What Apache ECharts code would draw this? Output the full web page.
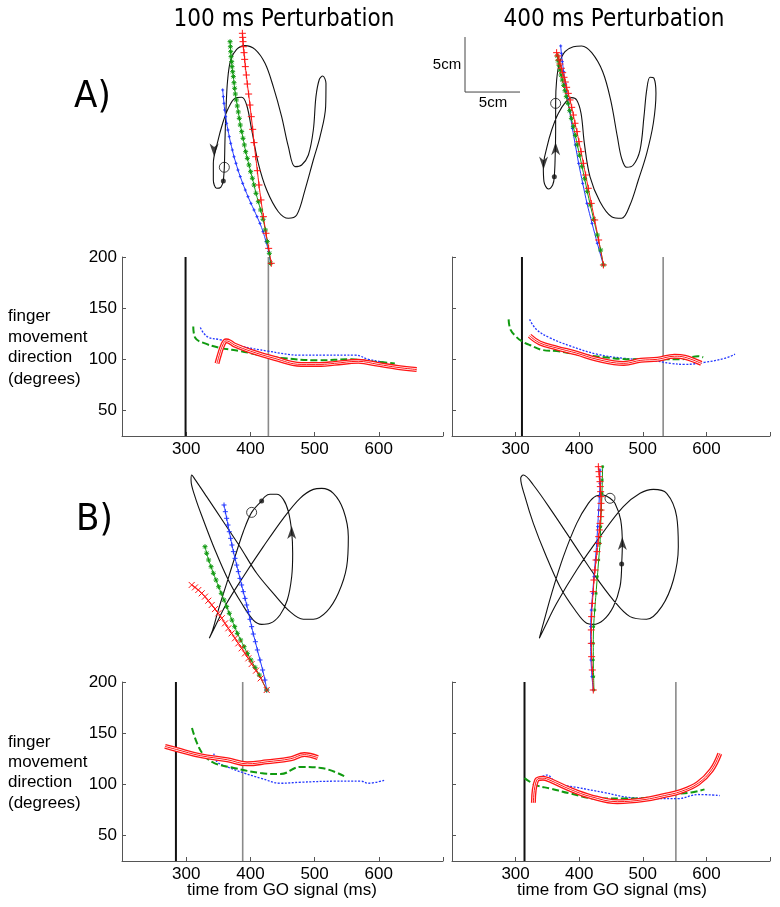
<!DOCTYPE html>
<html><head><meta charset="utf-8">
<script src="https://cdn.jsdelivr.net/npm/echarts@6/dist/echarts.min.js"></script>
<style>html,body{margin:0;padding:0;background:#fff}#c{width:780px;height:907px}</style>
</head><body><div id="c"></div>
<script>
// ===== tick labels =====
const xTickLabels = [300, 400, 500, 600];
const xTickMarks = [300, 400, 500, 600, 700];
const yTickLabels = [50, 100, 150, 200];

// ===== vertical reference lines (ms): [black onset, gray end] =====
const vlinesA100 = [299, 428];
const vlinesA400 = [310, 532];
const vlinesB100 = [284, 388];
const vlinesB400 = [314, 552];

// ===== finger movement direction (degrees) vs time (ms) =====
const redA100 = [[348,96],[352,105],[357,114],[362,118],[368,117],[375,114],[400,108],[437,101],[479,95],[510,95],[531,96],[568,98],[599,95],[630,92],[659,90]];
const greenA100 = [[311,132],[314,121],[327,116],[354,111],[385,108],[416,104],[453,101],[505,99],[557,100],[584,98],[607,97],[625,96]];
const blueA100 = [[322,131],[333,122],[354,119],[385,113],[427,108],[479,104],[516,104],[563,104],[584,100],[600,98],[615,96]];

const redA400 = [[322,123],[338,116],[365,111],[396,106],[428,100],[470,96],[497,99],[523,100],[550,103],[566,102],[592,96]];
const greenA400 = [[289,139],[292,129],[301,122],[309,118],[322,114],[343,109],[365,108],[396,105],[439,102],[481,100],[523,100],[560,100],[587,103],[595,102]];
const blueA400 = [[322,139],[333,129],[354,121],[386,113],[428,105],[470,101],[513,99],[544,96],[566,95],[597,97],[629,101],[645,105]];

const redB100 = [[267,137],[285,134],[322,128],[364,124],[395,120],[426,122],[463,125],[484,129],[505,126]];
const greenB100 = [[309,155],[317,140],[327,129],[343,121],[374,116],[416,111],[447,110],[478,117],[510,116],[546,108]];
const blueB100 = [[343,130],[348,122],[364,117],[390,111],[416,106],[447,101],[478,102],[531,103],[573,103],[583,101],[609,104]];

const redB400 = [[328,82],[333,104],[343,106],[354,104],[386,95],[418,88],[460,83],[502,85],[534,89],[560,93],[587,101],[608,114],[621,130]];
const greenB400 = [[314,106],[333,99],[354,96],[386,91],[428,86],[470,86],[513,87],[544,90],[576,92],[597,95]];
const blueB400 = [[333,104],[349,109],[365,101],[396,97],[439,92],[481,87],[523,86],[555,86],[587,90],[621,89]];

// ===== finger paths (cm, from the top-left of each drawing panel, y downward) =====
const figA100 = [[3.94,13.73],[4.03,12.48],[4.09,10.0],[4.18,7.27],[4.33,4.55],[4.61,2.73],[5.15,1.76],[5.91,1.42],[6.82,1.76],[7.73,3.03],[8.48,5.15],[9.24,7.88],[9.85,10.61],[10.45,12.42],[11.06,12.27],[11.67,11.36],[12.12,9.09],[12.36,6.06],[12.67,4.48],[12.97,4.18],[13.27,4.85],[13.24,6.97],[12.73,9.70],[12.12,11.82],[11.36,14.55],[10.61,16.82],[9.85,17.12],[8.94,16.52],[7.88,14.55],[7.12,12.12],[6.52,9.09],[6.06,6.82],[5.61,6.12],[5.0,6.21],[4.39,7.12],[3.88,8.48],[3.39,10.30],[3.03,12.12],[3.03,13.64],[3.33,14.39],[3.70,14.30],[3.94,13.73]];
const redA100path = [[5.67,0.30],[5.70,0.67],[5.73,1.06],[5.76,1.52],[5.82,2.06],[5.88,2.67],[5.94,3.33],[6.03,4.09],[6.12,4.91],[6.24,5.82],[6.36,6.82],[6.48,7.88],[6.61,9.03],[6.73,10.24],[6.88,11.52],[7.03,12.79],[7.18,14.09],[7.36,15.45],[7.58,16.97],[7.82,18.48],[8.06,19.85],[8.30,21.21]];
const greenA100path = [[4.55,1.06],[4.58,1.52],[4.61,1.97],[4.64,2.42],[4.70,2.88],[4.73,3.33],[4.79,3.79],[4.85,4.24],[4.91,4.79],[4.97,5.30],[5.03,5.82],[5.12,6.36],[5.21,6.91],[5.30,7.45],[5.39,8.03],[5.48,8.64],[5.61,9.24],[5.73,9.85],[5.85,10.45],[5.97,11.06],[6.12,11.67],[6.27,12.27],[6.42,12.88],[6.58,13.48],[6.73,14.09],[6.91,14.85],[7.12,15.61],[7.33,16.36],[7.55,17.21],[7.76,18.18],[7.94,19.24],[8.12,20.30],[8.24,21.21]];
const blueA100path = [[3.88,5.45],[3.94,6.06],[4.0,6.67],[4.06,7.27],[4.15,7.88],[4.24,8.48],[4.36,9.09],[4.48,9.70],[4.61,10.30],[4.76,10.91],[4.91,11.52],[5.09,12.12],[5.27,12.73],[5.48,13.33],[5.70,13.94],[5.94,14.55],[6.18,15.15],[6.45,15.76],[6.73,16.36],[7.0,16.97],[7.27,17.58],[7.55,18.33],[7.82,19.24],[8.06,20.15],[8.24,21.21]];
const startA100 = [3.94,13.73], onsetA100 = [4.03,12.48], arrowsA100 = [[3.10,10.9,180]];

const figA400 = [[3.12,13.33],[3.18,12.12],[3.24,9.09],[3.24,6.67],[3.33,4.55],[3.58,3.03],[4.09,1.97],[4.85,1.52],[5.61,1.45],[6.52,2.06],[7.52,3.79],[8.24,6.36],[8.85,9.70],[9.24,11.67],[9.70,12.48],[10.30,12.27],[10.91,10.91],[11.27,7.88],[11.52,5.45],[11.82,4.30],[12.18,4.39],[12.36,5.76],[12.12,8.48],[11.52,11.21],[10.76,13.64],[10.0,15.91],[9.24,17.12],[8.33,16.97],[7.27,15.61],[6.36,13.33],[5.85,10.30],[5.55,7.58],[5.15,6.36],[4.70,6.15],[4.18,6.52],[3.48,7.58],[2.88,9.09],[2.42,10.76],[2.12,12.42],[2.18,13.79],[2.58,14.45],[2.97,14.09],[3.12,13.33]];
const redA400path = [[3.33,2.06],[3.45,2.36],[3.55,2.73],[3.64,3.09],[3.76,3.48],[3.88,3.88],[4.0,4.30],[4.12,4.73],[4.24,5.21],[4.39,5.76],[4.55,6.36],[4.70,7.03],[4.85,7.73],[5.0,8.48],[5.18,9.24],[5.36,10.15],[5.55,11.06],[5.76,12.12],[5.97,13.18],[6.21,14.39],[6.48,15.76],[6.79,17.27],[7.15,19.09],[7.58,21.36]];
const greenA400path = [[3.39,2.36],[3.45,2.79],[3.55,3.21],[3.64,3.64],[3.73,4.09],[3.85,4.55],[3.97,5.03],[4.09,5.52],[4.21,6.06],[4.36,6.67],[4.52,7.33],[4.67,8.03],[4.85,8.79],[5.03,9.58],[5.21,10.45],[5.42,11.39],[5.64,12.42],[5.88,13.52],[6.12,14.70],[6.39,15.91],[6.70,17.21],[7.03,18.64],[7.33,20.0],[7.58,21.36]];
const blueA400path = [[3.70,1.45],[3.76,2.12],[3.85,2.88],[3.97,3.79],[4.12,4.85],[4.30,6.06],[4.52,7.42],[4.76,8.94],[5.03,10.45],[5.33,12.12],[5.70,13.94],[6.09,15.76],[6.55,17.58],[7.03,19.39],[7.58,21.36]];
const startA400 = [3.12,13.33], onsetA400 = [3.24,6.67], arrowsA400 = [[2.14,12.1,180],[3.24,10.8,0]];
const scaleBar = [[-5,0.64],[-5,5.64],[0,5.64]];   // 5 cm x 5 cm

const figB100 = [[10.15,3.73],[9.24,4.76],[8.48,6.52],[7.73,8.79],[6.97,11.21],[6.21,13.64],[5.70,15.45],[5.39,16.21],[5.91,15.15],[6.97,13.03],[8.48,10.61],[10.30,7.88],[12.12,5.30],[13.64,3.48],[14.85,2.67],[15.61,2.58],[16.67,3.03],[17.58,4.55],[18.03,6.97],[17.88,9.70],[17.12,12.12],[16.06,13.79],[14.85,14.48],[13.94,14.48],[12.73,13.79],[11.21,12.12],[9.70,10.30],[8.18,7.88],[6.67,5.61],[5.15,3.33],[4.09,1.76],[3.79,1.36],[3.73,1.82],[4.09,3.33],[4.85,5.45],[5.91,8.18],[7.12,10.91],[8.33,13.03],[9.39,14.55],[10.15,14.94],[10.91,14.85],[11.82,14.09],[12.48,12.73],[12.88,10.61],[12.97,8.48],[12.88,6.52],[12.58,4.70],[12.12,3.58],[11.52,3.12],[10.91,3.12],[10.45,3.33],[10.15,3.73]];
const redB100path = [[3.79,11.36],[4.09,11.58],[4.39,11.82],[4.70,12.12],[5.0,12.42],[5.30,12.79],[5.61,13.18],[5.91,13.55],[6.21,13.94],[6.52,14.39],[6.82,14.85],[7.12,15.30],[7.42,15.76],[7.73,16.21],[8.03,16.67],[8.33,17.12],[8.64,17.58],[8.94,18.03],[9.24,18.55],[9.64,19.15],[10.06,19.85],[10.61,20.91]];
const greenB100path = [[5.0,7.88],[5.15,8.48],[5.33,9.09],[5.55,9.70],[5.76,10.30],[6.0,10.91],[6.24,11.52],[6.48,12.12],[6.73,12.73],[6.97,13.33],[7.21,13.94],[7.45,14.55],[7.70,15.15],[7.94,15.76],[8.24,16.36],[8.55,16.97],[8.85,17.58],[9.18,18.18],[9.55,18.85],[9.94,19.55],[10.61,20.91]];
const blueB100path = [[6.73,4.09],[6.85,4.70],[6.97,5.30],[7.09,5.91],[7.21,6.52],[7.33,7.12],[7.45,7.73],[7.58,8.33],[7.73,8.94],[7.88,9.55],[8.03,10.15],[8.18,10.76],[8.33,11.36],[8.48,11.97],[8.64,12.58],[8.79,13.18],[8.94,13.79],[9.09,14.48],[9.24,15.15],[9.39,15.82],[9.58,16.52],[9.76,17.27],[10.0,18.18],[10.24,19.09],[10.45,20.0],[10.61,20.91]];
const startB100 = [10.15,3.73], onsetB100 = [9.24,4.76], arrowsB100 = [[12.88,6.6,0]];

const figB400 = [[11.97,9.45],[12.03,7.73],[11.88,5.45],[11.36,3.94],[10.91,3.48],[10.30,3.18],[9.64,3.27],[8.94,3.94],[7.88,5.76],[6.67,8.79],[5.61,12.12],[4.85,14.85],[4.48,16.21],[4.85,15.45],[6.06,13.03],[7.88,10.0],[10.0,6.97],[12.12,4.24],[13.64,3.03],[14.85,2.67],[16.06,3.03],[16.97,5.15],[17.12,7.88],[16.67,10.91],[15.61,13.33],[14.24,14.48],[12.73,14.24],[11.21,12.73],[9.39,10.30],[7.58,7.58],[5.76,4.85],[3.94,2.27],[3.03,1.36],[2.79,1.67],[3.18,3.33],[3.94,5.76],[5.0,8.48],[6.36,11.52],[7.73,13.64],[8.79,14.85],[9.39,14.94],[10.30,14.55],[11.21,13.33],[11.82,11.52],[11.97,9.45]];
const redB400path = [[9.85,0.61],[9.91,1.06],[9.94,1.52],[10.0,1.97],[10.03,2.42],[10.06,2.88],[10.09,3.33],[10.09,3.94],[10.09,4.55],[10.06,5.15],[10.0,5.76],[9.94,6.36],[9.88,6.97],[9.82,7.58],[9.73,8.33],[9.64,9.09],[9.55,10.0],[9.45,10.91],[9.39,11.97],[9.30,13.03],[9.24,14.24],[9.21,15.45],[9.21,16.67],[9.24,17.88],[9.30,19.09],[9.39,20.91]];
const greenB400path = [[10.24,0.61],[10.21,1.82],[10.18,3.03],[10.12,4.55],[10.06,6.06],[10.0,7.58],[9.88,9.09],[9.76,10.61],[9.64,12.12],[9.52,13.64],[9.42,15.15],[9.39,16.67],[9.39,18.18],[9.42,19.70],[9.45,20.91]];
const blueB400path = [[10.0,0.91],[10.0,2.12],[9.94,3.33],[9.88,4.55],[9.79,6.06],[9.70,7.58],[9.58,9.09],[9.45,10.61],[9.33,12.12],[9.21,13.64],[9.15,15.15],[9.15,16.67],[9.18,18.18],[9.27,19.70],[9.39,20.91]];
const startB400 = [11.97,9.45], onsetB400 = [10.91,3.48], arrowsB400 = [[12.03,7.6,0]];

// ===== styling =====
const RED = '#ff1414', GREEN = '#109a10', BLUE = '#2236ff', BLACK = '#111';
const SANS = "'Liberation Sans', Arial, Helvetica, sans-serif";
const NARROW = "'Liberation Sans Narrow', 'DejaVu Sans Condensed', sans-serif";
const PLUS = 'path://M0,-5L0,5M-5,0L5,0';
const CROSS = 'path://M-5,-5L5,5M-5,5L5,-5';
const STAR = 'path://M0,-5L0,5M-5,0L5,0M-3.5,-3.5L3.5,3.5M-3.5,3.5L3.5,-3.5';
const ARROW = 'path://M0,0L5,14L0,10L-5,14Z';

const chart = echarts.init(document.getElementById('c'), null, {renderer: 'canvas'});

const linePanels = [
  {left:122, top:257, width:321, height:179, labels:true,  red:redA100, green:greenA100, blue:blueA100, v:vlinesA100},
  {left:452, top:257, width:318, height:179, labels:false, red:redA400, green:greenA400, blue:blueA400, v:vlinesA400},
  {left:122, top:682, width:321, height:179, labels:true,  red:redB100, green:greenB100, blue:blueB100, v:vlinesB100},
  {left:452, top:682, width:318, height:179, labels:false, red:redB400, green:greenB400, blue:blueB400, v:vlinesB400}
];
const PX_PER_CM = 11;
const drawPanels = [
  {left:180, top:30,  x0:0,  w:15, h:22, fig:figA100, red:redA100path, green:greenA100path, blue:blueA100path, start:startA100, onset:onsetA100, arrows:arrowsA100,
   sym:{red:[PLUS,7], green:[STAR,5], blue:[PLUS,3]}},
  {left:454, top:30,  x0:-6, w:24, h:22, fig:figA400, red:redA400path, green:greenA400path, blue:blueA400path, start:startA400, onset:onsetA400, arrows:arrowsA400,
   sym:{red:[PLUS,7], green:[STAR,5], blue:[PLUS,3]}, bar:scaleBar},
  {left:150, top:460, x0:0,  w:21, h:21, fig:figB100, red:redB100path, green:greenB100path, blue:blueB100path, start:startB100, onset:onsetB100, arrows:arrowsB100,
   sym:{red:[CROSS,6], green:[STAR,5], blue:[PLUS,5]}},
  {left:490, top:460, x0:0,  w:21, h:21, fig:figB400, red:redB400path, green:greenB400path, blue:blueB400path, start:startB400, onset:onsetB400, arrows:arrowsB400,
   sym:{red:[PLUS,7], green:[STAR,3], blue:[PLUS,3]}}
];

const grid = [], xAxis = [], yAxis = [], series = [];
linePanels.forEach((p, i) => {
  grid.push({left:p.left, top:p.top, width:p.width, height:p.height});
  xAxis.push({gridIndex:i, type:'value', min:200, max:700,
    axisLine:{show:true, onZero:false, lineStyle:{color:'#555', width:1}},
    axisTick:{show:true, inside:true, length:4, customValues:xTickMarks, lineStyle:{color:'#555'}},
    axisLabel:{show:true, customValues:xTickLabels, color:'#000', fontSize:17, fontFamily:SANS, margin:5},
    splitLine:{show:false}});
  yAxis.push({gridIndex:i, type:'value', min:25, max:200,
    axisLine:{show:true, onZero:false, lineStyle:{color:'#555', width:1}},
    axisTick:{show:true, inside:true, length:4, customValues:yTickLabels, lineStyle:{color:'#555'}},
    axisLabel:{show:p.labels, customValues:yTickLabels, color:'#000', fontSize:17, fontFamily:SANS, margin:5},
    splitLine:{show:false}});
  const base = {type:'line', xAxisIndex:i, yAxisIndex:i, showSymbol:false, silent:true, animation:false};
  series.push({...base, data:[[p.v[0],25],[p.v[0],200]], lineStyle:{color:'#111', width:2}});
  series.push({...base, data:[[p.v[1],25],[p.v[1],200]], lineStyle:{color:'#8a8a8a', width:1.6}});
  series.push({...base, data:p.blue, smooth:0.4, lineStyle:{color:BLUE, width:1.3, type:[2,1.5]}});
  series.push({...base, data:p.green, smooth:0.4, lineStyle:{color:GREEN, width:2, type:[7,3]}});
  series.push({...base, data:p.red, smooth:0.4, lineStyle:{color:RED, width:5}});
  series.push({...base, data:p.red, smooth:0.4, lineStyle:{color:'#fff', width:2.4}});
  series.push({...base, data:p.red, smooth:0.4, lineStyle:{color:RED, width:1}});
});

drawPanels.forEach((p, k) => {
  const i = k + 4;
  grid.push({left:p.left, top:p.top, width:p.w*PX_PER_CM, height:p.h*PX_PER_CM});
  xAxis.push({gridIndex:i, type:'value', min:p.x0, max:p.x0 + p.w, show:false});
  yAxis.push({gridIndex:i, type:'value', min:0, max:p.h, inverse:true, show:false});
  const base = {type:'line', xAxisIndex:i, yAxisIndex:i, clip:false, silent:true, animation:false};
  if (p.bar) series.push({...base, data:p.bar, showSymbol:false, lineStyle:{color:'#444', width:1}});
  series.push({...base, data:p.fig, smooth:0.35, showSymbol:false, lineStyle:{color:BLACK, width:1.1}});
  [['blue',BLUE],['green',GREEN],['red',RED]].forEach(([key,col]) => {
    series.push({...base, data:p[key], smooth:0.3, showSymbol:true, showAllSymbol:true,
      symbol:p.sym[key][0], symbolSize:p.sym[key][1],
      lineStyle:{color:col, width:1},
      itemStyle:{color:'transparent', borderColor:col, borderWidth:1}});
  });
  series.push({type:'scatter', xAxisIndex:i, yAxisIndex:i, clip:false, silent:true, animation:false,
    data:[p.start], symbol:'circle', symbolSize:5, itemStyle:{color:BLACK}});
  series.push({type:'scatter', xAxisIndex:i, yAxisIndex:i, clip:false, silent:true, animation:false,
    data:[p.onset], symbol:'circle', symbolSize:10, itemStyle:{color:'transparent', borderColor:BLACK, borderWidth:1}});
  p.arrows.forEach(a => {
    series.push({type:'scatter', xAxisIndex:i, yAxisIndex:i, clip:false, silent:true, animation:false,
      data:[[a[0],a[1]]], symbol:ARROW, symbolSize:[9,13], symbolRotate:a[2], itemStyle:{color:BLACK}});
  });
});

function txt(x, y, text, font, align) {
  return {type:'text', x:x, y:y, silent:true,
    style:{text:text, font:font, fill:'#000', align:align || 'center', verticalAlign:'middle'}};
}
const ylab = ['finger','movement','direction','(degrees)'];
const graphic = [
  txt(284, 20, '100 ms Perturbation', '24px ' + NARROW),
  txt(614, 20, '400 ms Perturbation', '24px ' + NARROW),
  txt(74, 97, 'A)', '38px ' + NARROW, 'left'),
  txt(76, 520, 'B)', '38px ' + NARROW, 'left'),
  txt(447, 65, '5cm', '15px ' + SANS),
  txt(493, 103, '5cm', '15px ' + SANS),
  txt(282, 890, 'time from GO signal (ms)', '17px ' + SANS),
  txt(612, 890, 'time from GO signal (ms)', '17px ' + SANS)
];
const yLabA = [316, 337, 357, 379], yLabB = [742, 762, 782, 803];
ylab.forEach((t, j) => {
  graphic.push(txt(8, yLabA[j], t, '17px ' + SANS, 'left'));
  graphic.push(txt(8, yLabB[j], t, '17px ' + SANS, 'left'));
});

chart.setOption({backgroundColor:'#fff', animation:false, grid, xAxis, yAxis, series, graphic});
</script></body></html>
